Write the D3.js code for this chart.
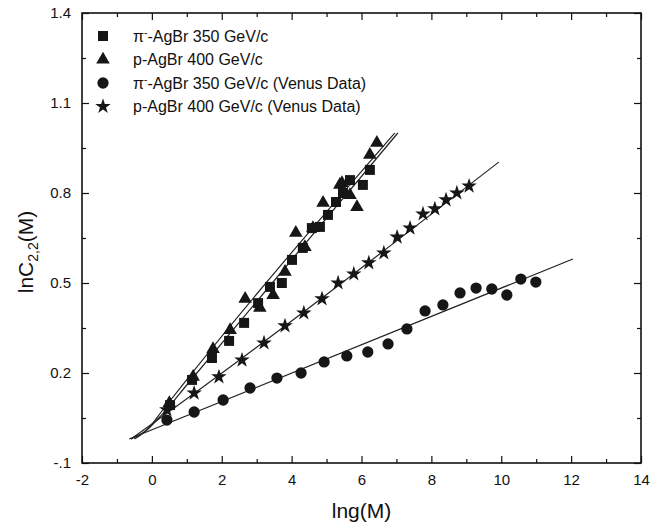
<!DOCTYPE html>
<html>
<head>
<meta charset="utf-8">
<script src="https://cdn.jsdelivr.net/npm/d3@7"></script>
<style>
  body { margin: 0; background: #fff; }
  text { font-family: "Liberation Sans", Arial, sans-serif; fill: #111; }
</style>
</head>
<body>
<div id="chart"></div>
<script>
// Data
const sqX = [0.52, 1.15, 1.72, 2.21, 2.64, 3.04, 3.38, 3.72, 4.01, 4.32, 4.58, 4.81, 5.04, 5.27, 5.47, 5.67, 6.04, 6.24];
const sqY = [0.093, 0.177, 0.25, 0.307, 0.367, 0.433, 0.487, 0.50, 0.577, 0.617, 0.683, 0.687, 0.727, 0.77, 0.80, 0.843, 0.827, 0.877];

const triX = [0.5, 1.18, 1.75, 2.24, 2.67, 3.09, 3.47, 3.81, 4.12, 4.38, 4.61, 4.9, 5.38, 5.44, 5.67, 5.87, 6.24, 6.44];
const triY = [0.1, 0.187, 0.28, 0.343, 0.447, 0.417, 0.46, 0.537, 0.667, 0.62, 0.683, 0.767, 0.827, 0.833, 0.793, 0.753, 0.927, 0.967];

const cirX = [0.43, 1.21, 2.04, 2.81, 3.58, 4.27, 4.93, 5.58, 6.18, 6.76, 7.3, 7.82, 8.33, 8.82, 9.28, 9.73, 10.16, 10.56, 10.99];
const cirY = [0.043, 0.07, 0.11, 0.15, 0.183, 0.20, 0.237, 0.257, 0.27, 0.297, 0.347, 0.407, 0.427, 0.467, 0.483, 0.48, 0.46, 0.513, 0.503];

const starX = [0.43, 1.21, 1.92, 2.58, 3.21, 3.81, 4.35, 4.87, 5.33, 5.78, 6.21, 6.64, 7.02, 7.39, 7.76, 8.1, 8.42, 8.73, 9.08];
const starY = [0.077, 0.133, 0.187, 0.243, 0.30, 0.357, 0.40, 0.447, 0.50, 0.53, 0.567, 0.60, 0.653, 0.683, 0.73, 0.747, 0.777, 0.80, 0.823];

// fitted curves
const fitSqX = [-0.6, -0.2, 0.3, 1.0, 7.04];
const fitSqY = [-0.02, 0.005, 0.063, 0.16, 1.0];
const fitTriX = [-0.5, -0.1, 0.3, 1.0, 6.95];
const fitTriY = [-0.02, 0.015, 0.075, 0.178, 1.0];
const fitStarX = [-0.6, 0.0, 9.93];
const fitStarY = [-0.02, 0.03, 0.903];
const fitCirX = [-0.65, 12.05];
const fitCirY = [-0.02, 0.58];

const xMajor = [-2, 0, 2, 4, 6, 8, 10, 12, 14];
const xMinor = [-1, 1, 3, 5, 7, 9, 11, 13];
const yMajor = [-0.1, 0.2, 0.5, 0.8, 1.1, 1.4];
const yMinor = [0.05, 0.35, 0.65, 0.95, 1.25];
const yLabels = ["-.1", "0.2", "0.5", "0.8", "1.1", "1.4"];

const legendNames = ["π", "p-AgBr 400 GeV/c", "π", "p-AgBr 400 GeV/c (Venus Data)"];

// Layout
const W = 651, H = 529;
const margin = { top: 13, right: 10, bottom: 66, left: 82 };
const width = 641 - margin.left;
const height = 463 - margin.top;

const svg = d3.select("#chart").append("svg")
    .attr("width", W)
    .attr("height", H);

const g = svg.append("g")
    .attr("transform", `translate(${margin.left}, ${margin.top})`);

const x = d3.scaleLinear().domain([-2, 14]).range([0, width]);
const y = d3.scaleLinear().domain([-0.1, 1.4]).range([height, 0]);

// Axes: ticks pointing inward
function styleAxis(sel) {
    sel.select(".domain").remove();
    sel.selectAll("line").attr("stroke", "#111").attr("stroke-width", 1.2);
    sel.selectAll("text").style("font-size", "15px").attr("fill", "#111");
}

g.append("g")
    .attr("transform", `translate(0, ${height})`)
    .call(d3.axisBottom(x).tickValues(xMajor).tickSize(-7).tickPadding(11).tickFormat(d => String(d)))
    .call(styleAxis);
g.append("g")
    .attr("transform", `translate(0, ${height})`)
    .call(d3.axisBottom(x).tickValues(xMinor).tickSize(-4).tickFormat(""))
    .call(styleAxis);
g.append("g")
    .call(d3.axisTop(x).tickValues(xMajor).tickSize(-7).tickFormat(""))
    .call(styleAxis);
g.append("g")
    .call(d3.axisTop(x).tickValues(xMinor).tickSize(-4).tickFormat(""))
    .call(styleAxis);

g.append("g")
    .call(d3.axisLeft(y).tickValues(yMajor).tickSize(-7).tickPadding(11).tickFormat((d, i) => yLabels[i]))
    .call(styleAxis);
g.append("g")
    .call(d3.axisLeft(y).tickValues(yMinor).tickSize(-4).tickFormat(""))
    .call(styleAxis);
g.append("g")
    .attr("transform", `translate(${width}, 0)`)
    .call(d3.axisRight(y).tickValues(yMajor).tickSize(-7).tickFormat(""))
    .call(styleAxis);
g.append("g")
    .attr("transform", `translate(${width}, 0)`)
    .call(d3.axisRight(y).tickValues(yMinor).tickSize(-4).tickFormat(""))
    .call(styleAxis);

// Frame
g.append("rect")
    .attr("width", width)
    .attr("height", height)
    .attr("fill", "none")
    .attr("stroke", "#111")
    .attr("stroke-width", 1.6);

// Fit lines
const line = d3.line()
    .x(d => x(d[0]))
    .y(d => y(d[1]))
    .curve(d3.curveMonotoneX);

const fits = [
    d3.zip(fitSqX, fitSqY),
    d3.zip(fitTriX, fitTriY),
    d3.zip(fitStarX, fitStarY),
    d3.zip(fitCirX, fitCirY)
];
g.selectAll(".fit")
    .data(fits)
    .enter()
    .append("path")
    .attr("class", "fit")
    .attr("fill", "none")
    .attr("stroke", "#222")
    .attr("stroke-width", 1.2)
    .attr("d", line);

// Markers
const series = [
    { xs: sqX, ys: sqY, type: d3.symbolSquare, size: 100 },
    { xs: triX, ys: triY, type: d3.symbolTriangle, size: 80 },
    { xs: cirX, ys: cirY, type: d3.symbolCircle, size: 100 },
    { xs: starX, ys: starY, type: d3.symbolStar, size: 75 }
];

series.forEach(s => {
    g.selectAll(null)
        .data(d3.zip(s.xs, s.ys))
        .enter()
        .append("path")
        .attr("transform", d => `translate(${x(d[0])}, ${y(d[1])})`)
        .attr("d", d3.symbol().type(s.type).size(s.size))
        .attr("fill", "#161616");
});

// Legend
const legend = svg.append("g").attr("transform", "translate(103, 36)");
const rows = legend.selectAll("g")
    .data(series)
    .enter()
    .append("g")
    .attr("transform", (d, i) => `translate(0, ${i * 23.5})`);

rows.append("path")
    .attr("d", d => d3.symbol().type(d.type).size(d.size)())
    .attr("fill", "#161616");

rows.each(function(d, i) {
    const t = d3.select(this).append("text")
        .attr("x", 30)
        .attr("y", 5.5)
        .style("font-size", "16px");
    if (i === 0 || i === 2) {
        t.append("tspan").text("π");
        t.append("tspan").attr("dy", -6).style("font-size", "10px").text("-");
        t.append("tspan").attr("dy", 6)
            .text(i === 0 ? "-AgBr 350 GeV/c" : "-AgBr 350 GeV/c (Venus Data)");
    } else {
        t.text(legendNames[i]);
    }
});

// Axis titles
svg.append("text")
    .attr("x", margin.left + width / 2)
    .attr("y", 518)
    .attr("text-anchor", "middle")
    .style("font-size", "21px")
    .text("lng(M)");

const yt = svg.append("text")
    .attr("transform", `translate(33, 252) rotate(-90)`)
    .attr("text-anchor", "middle")
    .style("font-size", "21px");
yt.append("tspan").text("lnC");
yt.append("tspan").attr("dy", 5).style("font-size", "14px").text("2,2");
yt.append("tspan").attr("dy", -5).text("(M)");
</script>
</body>
</html>
